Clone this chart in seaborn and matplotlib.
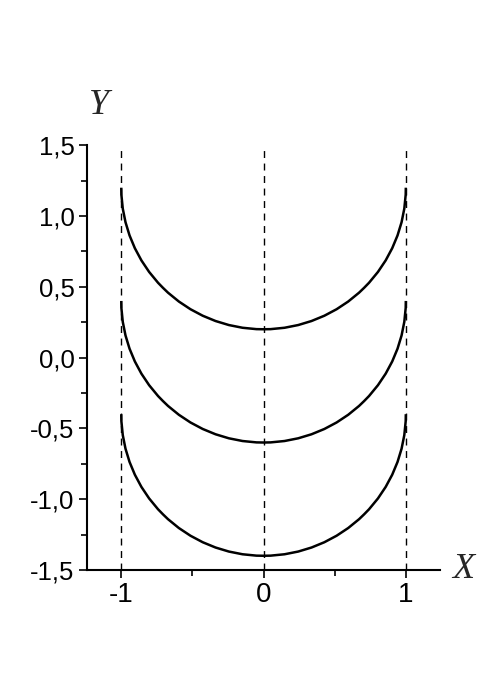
import matplotlib
matplotlib.use("Agg")
import matplotlib.pyplot as plt
from matplotlib.patches import Arc
from matplotlib.ticker import FixedLocator, FuncFormatter
import seaborn as sns
import pandas as pd

# data
arc_centers_y = [1.2, 0.4, -0.4]
arc_center_x = 0.0
arc_radius = 1.0
vline_x = [-1, 0, 1]
vline_top = 1.5
vline_bottom = -1.5
x_ticks = [-1, 0, 1]
y_ticks = [-1.5, -1.0, -0.5, 0.0, 0.5, 1.0, 1.5]

sns.set_style("ticks")
plt.rcParams['font.family'] = ['Liberation Sans', 'DejaVu Sans']

fig = plt.figure(figsize=(4.84, 6.85), dpi=100)
ax = fig.add_axes([0.18, 0.168, 0.729, 0.62])

# dashed vertical lines
rows = []
for i, xv in enumerate(vline_x):
    rows.append({"x": xv, "y": vline_bottom, "g": i})
    rows.append({"x": xv, "y": vline_top, "g": i})
df = pd.DataFrame(rows)
for g, sub in df.groupby("g"):
    sns.lineplot(data=sub, x="x", y="y", ax=ax, color="black", lw=1.0,
                 linestyle=(0, (5, 4)), sort=False, estimator=None)

# semicircles (lower halves)
for cy in arc_centers_y:
    ax.add_patch(Arc((arc_center_x, cy), 2 * arc_radius, 2 * arc_radius,
                     theta1=180, theta2=360, color="black", lw=1.8))

ax.set_xlim(-1.24, 1.24)
ax.set_ylim(-1.5, 1.5)
ax.set_xlabel("")
ax.set_ylabel("")

ax.xaxis.set_major_locator(FixedLocator(x_ticks))
ax.xaxis.set_minor_locator(FixedLocator([-0.5, 0.5]))
ax.yaxis.set_major_locator(FixedLocator(y_ticks))
ax.yaxis.set_minor_locator(FixedLocator([-1.25, -0.75, -0.25, 0.25, 0.75, 1.25]))
ax.yaxis.set_major_formatter(FuncFormatter(lambda v, p: f"{v:.1f}".replace(".", ",")))
ax.xaxis.set_major_formatter(FuncFormatter(lambda v, p: f"{int(v)}"))

ax.tick_params(axis="both", which="major", direction="out", length=6, width=1.2,
               color="black", labelcolor="black")
ax.tick_params(axis="y", which="major", labelsize=18.5, pad=3)
ax.tick_params(axis="x", which="major", labelsize=20, pad=3)
ax.tick_params(axis="both", which="minor", direction="out", length=4, width=1.2,
               color="black")

for side in ["top", "right"]:
    ax.spines[side].set_visible(False)
for side in ["left", "bottom"]:
    ax.spines[side].set_linewidth(1.5)
    ax.spines[side].set_color("black")

fig.text(99 / 484, 1 - 105 / 685, "Y", family="Liberation Serif", style="italic",
         fontsize=26, ha="center", va="center")
fig.text(463 / 484, 1 - 570 / 685, "X", family="Liberation Serif", style="italic",
         fontsize=26, ha="center", va="center")

fig.savefig("out.png", dpi=100, facecolor="white")
